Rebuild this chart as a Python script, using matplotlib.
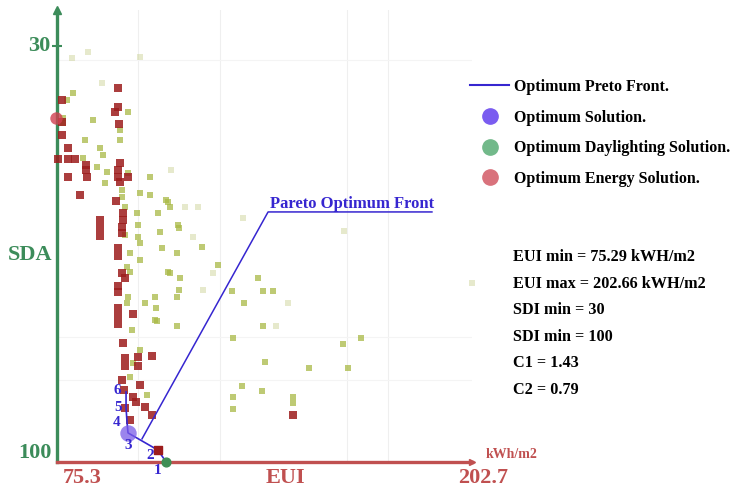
import matplotlib.pyplot as plt
from matplotlib.lines import Line2D

plt.rcParams['font.family'] = ['Liberation Serif', 'DejaVu Serif']
plt.rcParams['font.weight'] = 'bold'

# designs near the energy optimum (dark red squares)
energy_eui = [94.0, 76.8, 94.0, 93.1, 76.8, 94.3, 76.8, 78.7, 75.6, 78.7, 80.8, 84.2, 84.2,
              84.5, 78.7, 94.6, 94.0, 94.0, 94.6, 97.1, 82.4, 93.4, 88.5, 88.5, 88.5, 95.6,
              95.6, 95.3, 95.3, 94.0, 94.0, 95.3, 96.2, 94.0, 94.0, 94.0, 94.0, 94.0, 98.6,
              95.6, 96.2, 96.2, 100.2, 100.2, 104.5, 95.3, 100.8, 95.9, 98.6, 99.6, 96.2,
              102.3, 104.5, 97.7, 147.7]
energy_sda = [37.1, 39.1, 40.3, 41.1, 42.8, 43.1, 45.0, 47.2, 49.0, 49.0, 49.0, 50.0, 50.9,
              52.0, 52.0, 49.7, 50.9, 52.0, 52.9, 52.0, 55.1, 56.1, 59.3, 60.6, 61.9, 58.1,
              59.3, 60.5, 61.5, 64.0, 65.3, 68.2, 69.0, 70.4, 71.4, 74.1, 75.4, 76.8, 75.1,
              80.0, 82.5, 83.8, 82.3, 83.8, 82.2, 86.2, 87.0, 87.9, 89.1, 89.9, 90.9,
              90.7, 92.1, 92.9, 92.1]

# other daylighting designs (yellow-green squares)
design_eui = [80.2, 78.4, 77.1, 77.1, 86.4, 83.9, 88.5, 94.6, 94.6, 89.4, 83.3, 97.1, 87.6,
              97.1, 90.7, 90.0, 100.8, 95.3, 95.3, 103.9, 96.2, 99.9, 106.3, 109.4, 100.2,
              106.9, 112.4, 96.2, 100.2, 100.8, 107.5, 112.1, 97.7, 100.8, 96.8, 109.4, 113.1,
              97.7, 105.4, 112.1, 97.1, 102.3, 103.9, 108.8, 110.0, 112.8, 119.8, 124.7, 110.0,
              112.8, 129.0, 137.0, 138.5, 141.6, 132.7, 105.7, 105.4, 112.1, 138.5, 129.3,
              163.1, 168.6, 139.2, 152.7, 164.6, 132.1, 138.2, 129.3, 147.7, 147.7, 129.3,
              96.8, 106.0, 98.3, 98.6, 97.7, 100.8, 102.9]
design_sda = [37.9, 39.1, 42.1, 42.9, 42.4, 45.8, 47.2, 44.1, 45.8, 48.3, 48.8, 41.1, 50.4,
              51.4, 51.2, 53.0, 54.7, 54.2, 55.4, 55.1, 57.1, 58.1, 58.1, 56.2, 60.1,
              61.3, 60.1, 61.8, 62.1, 63.1, 64.0, 64.8, 64.8, 66.0, 67.2, 68.0, 69.0,
              68.0, 72.2, 72.2, 72.2, 73.2, 52.0, 55.9, 57.1, 60.6, 63.8, 66.8, 68.2,
              71.1, 71.2, 69.0, 71.2, 71.2, 73.2, 74.1, 76.1, 77.1, 77.1, 79.1,
              80.1, 79.1, 83.2, 84.2, 84.2, 87.2, 88.1, 89.1, 89.1, 90.1, 91.1,
              73.2, 76.3, 77.8, 83.3, 85.7, 81.2, 88.7]

# barely visible designs
faint_eui = [89.1, 110.3, 114.6, 118.6, 117.1, 123.2, 120.1, 132.4, 163.4, 146.2, 142.5,
             202.7, 79.9, 84.8, 100.8]
faint_sda = [36.2, 50.9, 57.1, 57.1, 62.1, 68.2, 71.1, 58.9, 61.1, 73.2, 77.1,
             69.9, 32.0, 31.0, 31.8]

# Pareto front, points 1..6
pareto_eui = [108.8, 106.3, 97.1, 96.8, 96.5, 96.5]
pareto_sda = [100.0, 98.0, 95.1, 93.3, 90.9, 88.2]
pareto_labels = ['1', '2', '3', '4', '5', '6']
label_offsets = [(-9, -9), (-8, -5), (0, -13), (-10, 0), (-8, 0), (-9, 1)]

best_energy = (75.0, 42.1)

stats = ['EUI min = 75.29 kWH/m2', 'EUI max = 202.66 kWH/m2', 'SDI min = 30',
         'SDI min = 100', 'C1 = 1.43', 'C2 = 0.79']

green = '#3c8c5a'
red = '#c05050'
blue = '#3626d0'

W, H = 734, 493
fig = plt.figure(figsize=(W / 100, H / 100), dpi=100)
ax = fig.add_axes([57 / W, 31 / H, 415 / W, 452 / H])
ax.set_xlim(75.3, 202.7)
ax.set_ylim(100, 23.9)

# faint background grid
for gx in [100.2, 125.3, 164.3, 176.9]:
    ax.axvline(gx, color='#efefef', lw=0.8, zorder=0)
for gy in [32.4, 79.0, 86.2]:
    ax.axhline(gy, color='#f4f4f4', lw=0.8, zorder=0)

ax.scatter(faint_eui, faint_sda, marker='s', s=14, color='#c9d08f', alpha=0.45,
           lw=0, zorder=2, clip_on=False)
ax.scatter(design_eui, design_sda, marker='s', s=16, color='#a9b945', alpha=0.75,
           lw=0, zorder=2, clip_on=False)
ax.scatter(energy_eui, energy_sda, marker='s', s=32, color='#9c1c1c', alpha=0.85,
           lw=0, zorder=3, clip_on=False)
ax.scatter([best_energy[0]], [best_energy[1]], marker='o', s=80, color='#d04050',
           alpha=0.8, lw=0, zorder=4, clip_on=False)

# Pareto front
ax.plot(pareto_eui, pareto_sda, color=blue, lw=1.2, zorder=5)
ax.scatter(pareto_eui[1:2], pareto_sda[1:2], marker='s', s=30, color='#9c1c1c', zorder=5)
ax.scatter(pareto_eui[0:1], pareto_sda[0:1], marker='o', s=40, color='#3f8f55',
           zorder=6, clip_on=False)
ax.scatter(pareto_eui[2:3], pareto_sda[2:3], marker='o', s=140, color='#7a5ce8',
           alpha=0.75, lw=0, zorder=6)
for x, y, t, off in zip(pareto_eui, pareto_sda, pareto_labels, label_offsets):
    ax.annotate(t, (x, y), xytext=off, textcoords='offset pixels', ha='center',
                va='center', fontsize=11, color=blue, zorder=7)

# callout
ax.plot([101.4, 140.1, 190.4], [96.1, 57.9, 57.9], color=blue, lw=1.1, zorder=5)
ax.text(140.6, 57.3, 'Pareto Optimum Front', color=blue, fontsize=12, va='baseline',
        ha='left')

# axes lines
for s in ['top', 'right']:
    ax.spines[s].set_visible(False)
ax.spines['left'].set_color(green)
ax.spines['left'].set_linewidth(2.4)
ax.spines['bottom'].set_color(red)
ax.spines['bottom'].set_linewidth(2.4)
ax.set_xticks([])
ax.set_yticks([30])
ax.tick_params(axis='y', direction='inout', length=7, width=1.5, color=green,
               labelleft=False)
ax.plot([0], [1], marker='^', ms=6, color=green, transform=ax.transAxes, clip_on=False)
ax.plot([1], [0], marker='>', ms=5, color=red, transform=ax.transAxes, clip_on=False)

def px(x, y):
    return x / W, 1 - y / H

fig.text(*px(50, 46), '30', color=green, fontsize=16, ha='right', va='center')
fig.text(*px(52, 453), '100', color=green, fontsize=16, ha='right', va='center')
fig.text(*px(30, 255), 'SDA', color=green, fontsize=16, ha='center', va='center')
fig.text(*px(82, 478), '75.3', color=red, fontsize=16, ha='center', va='center')
fig.text(*px(285, 478), 'EUI', color=red, fontsize=16, ha='center', va='center')
fig.text(*px(483, 478), '202.7', color=red, fontsize=16, ha='center', va='center')
fig.text(*px(512, 455), 'kWh/m2', color=red, fontsize=10, ha='center', va='center')

handles = [
    Line2D([], [], color=blue, lw=1.5),
    Line2D([], [], ls='none', marker='o', ms=11, color='#7a5cf0'),
    Line2D([], [], ls='none', marker='o', ms=11, color='#72b98a'),
    Line2D([], [], ls='none', marker='o', ms=11, color='#d9727c'),
]
labels = ['Optimum Preto Front.', 'Optimum Solution.', 'Optimum Daylighting Solution.',
          'Optimum Energy Solution.']
fig.legend(handles, labels, loc='upper left', bbox_to_anchor=px(470, 79), frameon=False,
           fontsize=11.5, handlelength=2.45, handletextpad=0.3, labelspacing=0.92,
           borderpad=0, borderaxespad=0)

for i, s in enumerate(stats):
    fig.text(*px(513, 257 + i * 26.6), s, fontsize=11.7, ha='left', va='center')

fig.savefig('out.png', dpi=100, facecolor='white')
